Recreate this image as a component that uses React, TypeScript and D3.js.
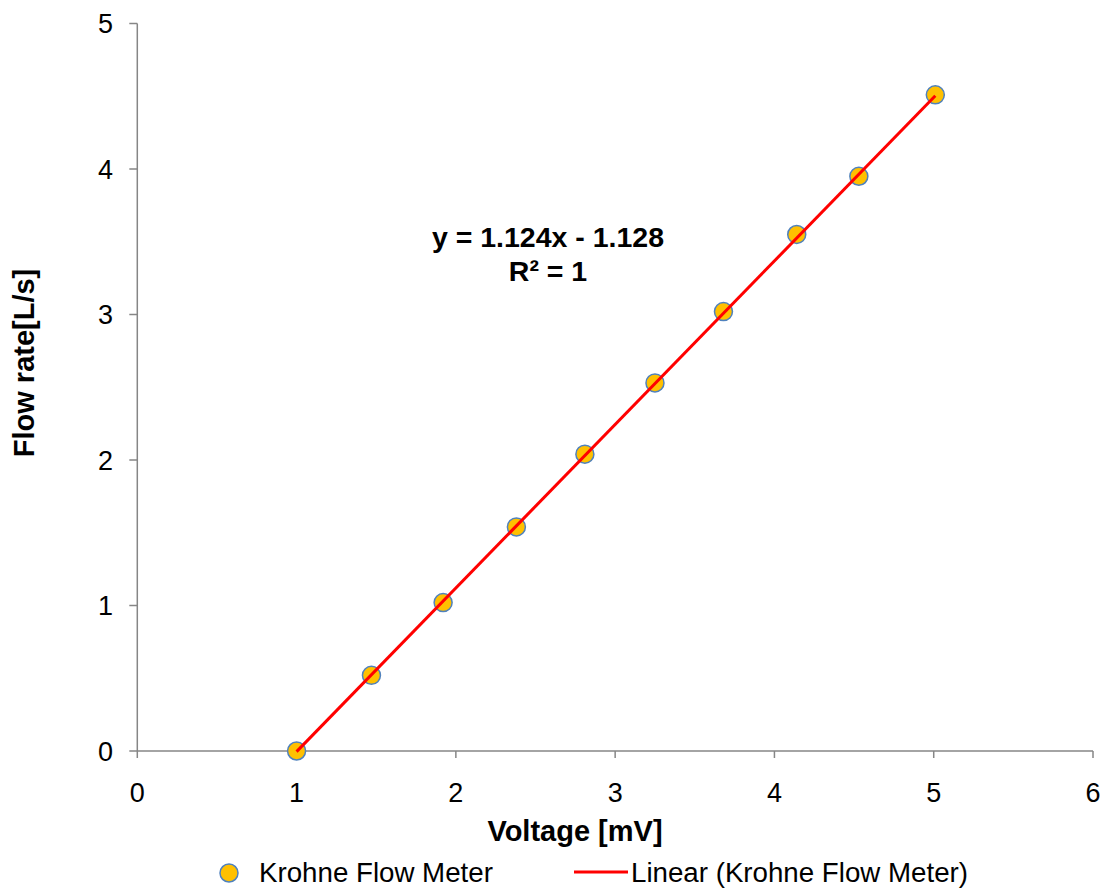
import React from "react";
import * as d3 from "d3";

const voltage = [1.0, 1.47, 1.92, 2.38, 2.81, 3.25, 3.68, 4.14, 4.53, 5.01];
const flowRate = [0.0, 0.52, 1.02, 1.54, 2.04, 2.53, 3.02, 3.55, 3.95, 4.51];
const xTicks = [0, 1, 2, 3, 4, 5, 6];
const yTicks = [0, 1, 2, 3, 4, 5];
const slope = 1.124;
const intercept = -1.128;
const equationText = "y = 1.124x - 1.128";
const r2Text = "R² = 1";
const xTitle = "Voltage [mV]";
const yTitle = "Flow rate[L/s]";
const seriesName = "Krohne Flow Meter";
const trendName = "Linear (Krohne Flow Meter)";

const W = 1103;
const H = 890;
const FONT = "Liberation Sans, Arial, sans-serif";

export default function App() {
  const x = d3.scaleLinear().domain([0, 6]).range([137.3, 1093]);
  const y = d3.scaleLinear().domain([0, 5]).range([751, 23.5]);
  const axisColor = "#868686";
  const xMin = d3.min(voltage) as number;
  const xMax = d3.max(voltage) as number;
  const trend = d3
    .line<number>()
    .x((d) => x(d))
    .y((d) => y(slope * d + intercept));
  const pts = voltage.map((v, i) => ({ v, f: flowRate[i] }));

  return (
    <svg
      width={W}
      height={H}
      style={{ position: "absolute", left: 0, top: 0, background: "#fff" }}
      fontFamily={FONT}
    >
      <rect width={W} height={H} fill="#fff" />
      {/* axes */}
      <line x1={x(0)} x2={x(0)} y1={y(5)} y2={y(0)} stroke={axisColor} strokeWidth={1.5} />
      <line x1={x(0)} x2={x(6)} y1={y(0)} y2={y(0)} stroke={axisColor} strokeWidth={1.5} />
      {yTicks.map((t) => (
        <g key={"y" + t}>
          <line x1={x(0) - 8} x2={x(0)} y1={y(t)} y2={y(t)} stroke={axisColor} strokeWidth={1.5} />
          <text x={113} y={y(t)} dy="0.36em" textAnchor="end" fontSize={27} fill="#000">
            {t}
          </text>
        </g>
      ))}
      {xTicks.map((t) => (
        <g key={"x" + t}>
          <line x1={x(t)} x2={x(t)} y1={y(0)} y2={y(0) + 7} stroke={axisColor} strokeWidth={1.5} />
          <text x={x(t)} y={802} textAnchor="middle" fontSize={27} fill="#000">
            {t}
          </text>
        </g>
      ))}
      {/* titles */}
      <text x={575} y={841} textAnchor="middle" fontSize={29} fontWeight="bold" fill="#000">
        {xTitle}
      </text>
      <text
        transform={`translate(34,363) rotate(-90)`}
        textAnchor="middle"
        fontSize={29}
        fontWeight="bold"
        fill="#000"
      >
        {yTitle}
      </text>
      {/* points */}
      {pts.map((p, i) => (
        <circle
          key={i}
          cx={x(p.v)}
          cy={y(p.f)}
          r={9}
          fill="#FFC000"
          stroke="#4F81BD"
          strokeWidth={1.5}
        />
      ))}
      {/* trendline drawn over the points */}
      <path d={trend([xMin, xMax]) || ""} fill="none" stroke="#FF0000" strokeWidth={3} />
      {/* equation */}
      <text x={548} y={247} textAnchor="middle" fontSize={28.5} fontWeight="bold" fill="#000">
        {equationText}
      </text>
      <text x={548} y={281} textAnchor="middle" fontSize={28.5} fontWeight="bold" fill="#000">
        {r2Text}
      </text>
      {/* legend */}
      <circle cx={229} cy={873} r={9} fill="#FFC000" stroke="#4F81BD" strokeWidth={1.5} />
      <text x={259} y={882} fontSize={27.7} fill="#000">
        {seriesName}
      </text>
      <line x1={574} x2={628} y1={872} y2={872} stroke="#FF0000" strokeWidth={3} />
      <text x={631} y={882} fontSize={27.7} fill="#000">
        {trendName}
      </text>
    </svg>
  );
}
